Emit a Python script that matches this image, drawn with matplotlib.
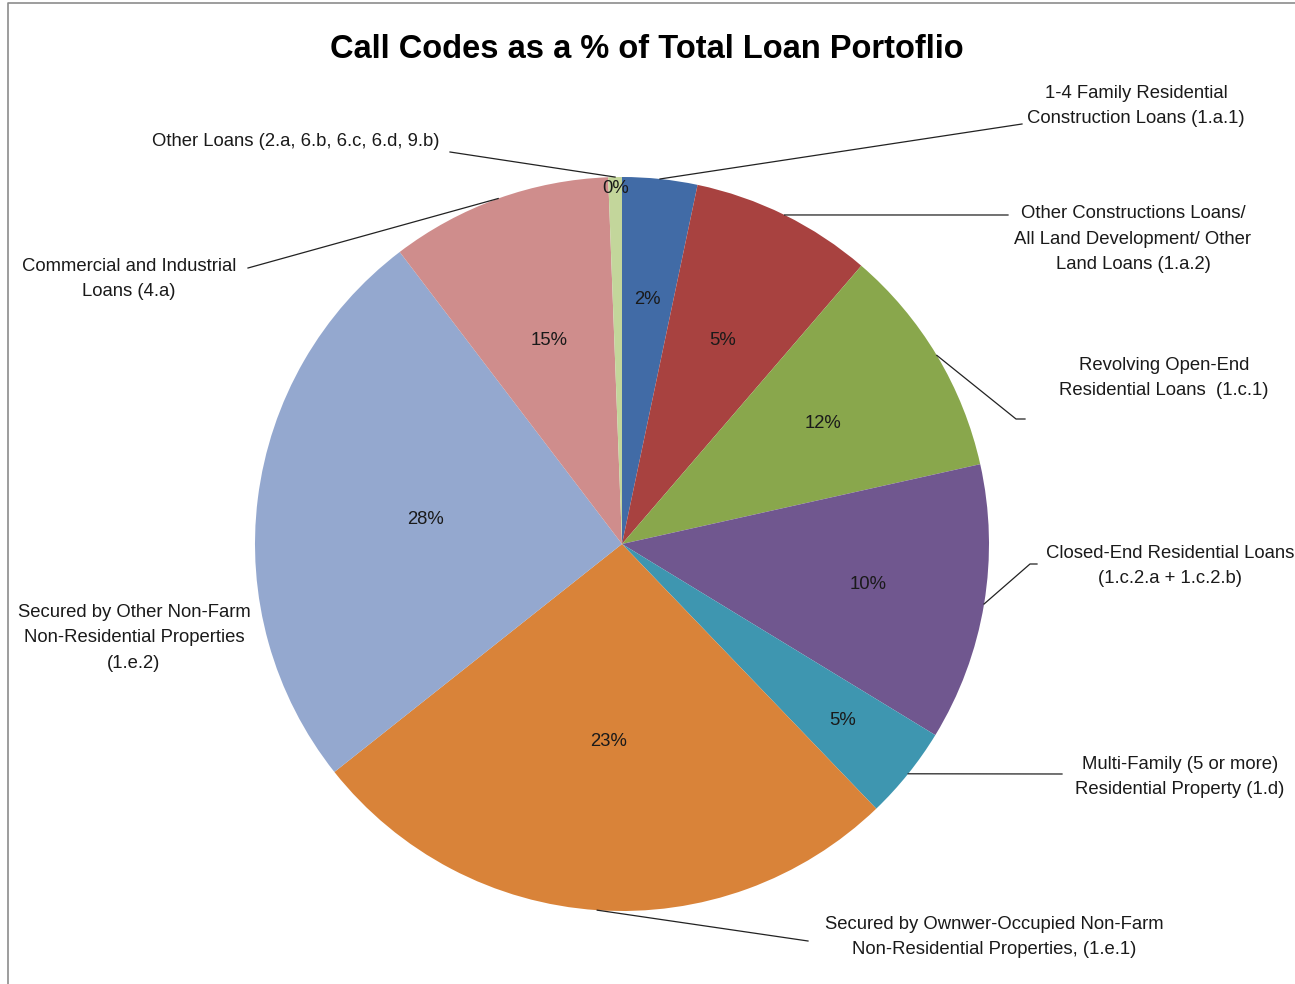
import numpy as np
import matplotlib
matplotlib.use("Agg")
import matplotlib.pyplot as plt

W, H = 1295, 984

# slice shares and the labels printed on them
categories = [
    "1-4 Family Residential\nConstruction Loans (1.a.1)",
    "Other Constructions Loans/\nAll Land Development/ Other\nLand Loans (1.a.2)",
    "Revolving Open-End\nResidential Loans  (1.c.1)",
    "Closed-End Residential Loans\n(1.c.2.a + 1.c.2.b)",
    "Multi-Family (5 or more)\nResidential Property (1.d)",
    "Secured by Ownwer-Occupied Non-Farm\nNon-Residential Properties, (1.e.1)",
    "Secured by Other Non-Farm\nNon-Residential Properties\n(1.e.2)",
    "Commercial and Industrial\nLoans (4.a)",
    "Other Loans (2.a, 6.b, 6.c, 6.d, 9.b)",
]
shares = [3.3, 8.0, 10.2, 12.2, 4.1, 26.5, 25.3, 9.75, 0.6]
pct_labels = ["2%", "5%", "12%", "10%", "5%", "23%", "28%", "15%", "0%"]
colors = ["#416BA6", "#A84240", "#89A74C", "#70578F", "#3E96B0",
          "#D98339", "#94A8CF", "#CF8D8C", "#C3D69B"]

# layout (pixel coords, y down)
cx, cy, R = 622, 544, 367
pct_r = [0.67, 0.62, 0.64, 0.68, 0.77, 0.54, 0.54, 0.59, 0.97]
label_xy = [(1136, 106), (1133, 239), (1164, 378), (1170, 566), (1180, 777),
            (994, 937), (134, 638), (129, 279), (296, 142)]
# leader line: end point, then optional short horizontal tail
leader_end = [(1022, 124), (1003, 215), (1016, 419), (1030, 564), (1062, 774),
              (808, 941), None, (248, 268), (450, 152)]
leader_tail = [None, (1008, 215), (1025, 419), (1037, 564), None,
               None, None, None, None]

fig = plt.figure(figsize=(W / 100, H / 100), dpi=100)
ax = fig.add_axes([0, 0, 1, 1])


def py(y):
    return H - y


wedges, _ = ax.pie(shares, colors=colors, startangle=90, counterclock=False,
                   center=(cx, py(cy)), radius=R,
                   wedgeprops=dict(linewidth=0))
ax.set_xlim(0, W)
ax.set_ylim(0, H)
ax.set_aspect("auto")
ax.axis("off")

for i, w in enumerate(wedges):
    mid = np.deg2rad((w.theta1 + w.theta2) / 2)
    ex, ey = cx + R * np.cos(mid), py(cy) + R * np.sin(mid)
    tx, ty = cx + pct_r[i] * R * np.cos(mid), py(cy) + pct_r[i] * R * np.sin(mid)
    ax.text(tx, ty, pct_labels[i], ha="center", va="center",
            fontsize=13.3, color="#1a1a1a", family="Liberation Sans")

    lx, ly = label_xy[i]
    ax.text(lx, py(ly), categories[i], ha="center", va="center",
            fontsize=13.3, color="#1a1a1a", family="Liberation Sans",
            linespacing=1.65)

    if leader_end[i] is not None:
        xs = [ex, leader_end[i][0]]
        ys = [ey, py(leader_end[i][1])]
        if leader_tail[i] is not None:
            xs.append(leader_tail[i][0])
            ys.append(py(leader_tail[i][1]))
        ax.plot(xs, ys, color="#222222", lw=0.9)

ax.text(647, py(50), "Call Codes as a % of Total Loan Portoflio",
        ha="center", va="center", fontsize=23.5, fontweight="bold",
        family="Liberation Sans", color="black")

# chart area border
ax.plot([8, 8, W + 5], [0, py(3), py(3)], color="#8c8c8c", lw=1.2,
        clip_on=False)

fig.savefig("out.png", dpi=100)
